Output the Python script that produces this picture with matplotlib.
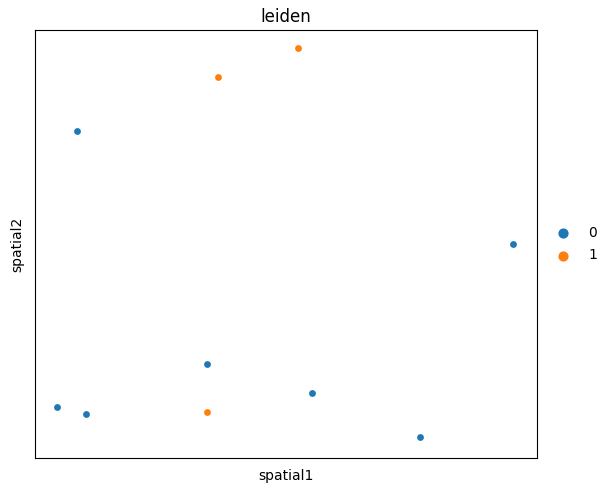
import matplotlib
matplotlib.use("Agg")
import matplotlib.pyplot as plt
import numpy as np

x = [77, 218, 298, 513, 207, 57, 86, 207, 312, 420]
y = [131, 77, 48, 244, 364, 407, 414, 412, 393, 437]
cluster = ["0", "1", "1", "0", "0", "0", "0", "1", "0", "0"]
categories = ["0", "1"]
colors = {"0": "#1f77b4", "1": "#ff7f0e"}

fig = plt.figure(figsize=(6.12, 4.91), dpi=100)
ax = fig.add_axes([35/612, 33/491, 502/612, 428/491])
for c in categories:
    xs = [xi for xi, ci in zip(x, cluster) if ci == c]
    ys = [yi for yi, ci in zip(y, cluster) if ci == c]
    ax.scatter(xs, ys, s=24, c=colors[c], label=c, linewidths=0)
ax.set_xlim(35, 537)
ax.set_ylim(458, 30)
ax.set_xticks([])
ax.set_yticks([])
ax.set_xlabel("spatial1", labelpad=8)
ax.set_ylabel("spatial2", labelpad=8)
ax.set_title("leiden")
ax.legend(loc="center left", bbox_to_anchor=(1, 0.5), frameon=False, markerscale=1.5,
          handletextpad=0.8, labelspacing=0.6)
fig.savefig("out.png", dpi=100)
